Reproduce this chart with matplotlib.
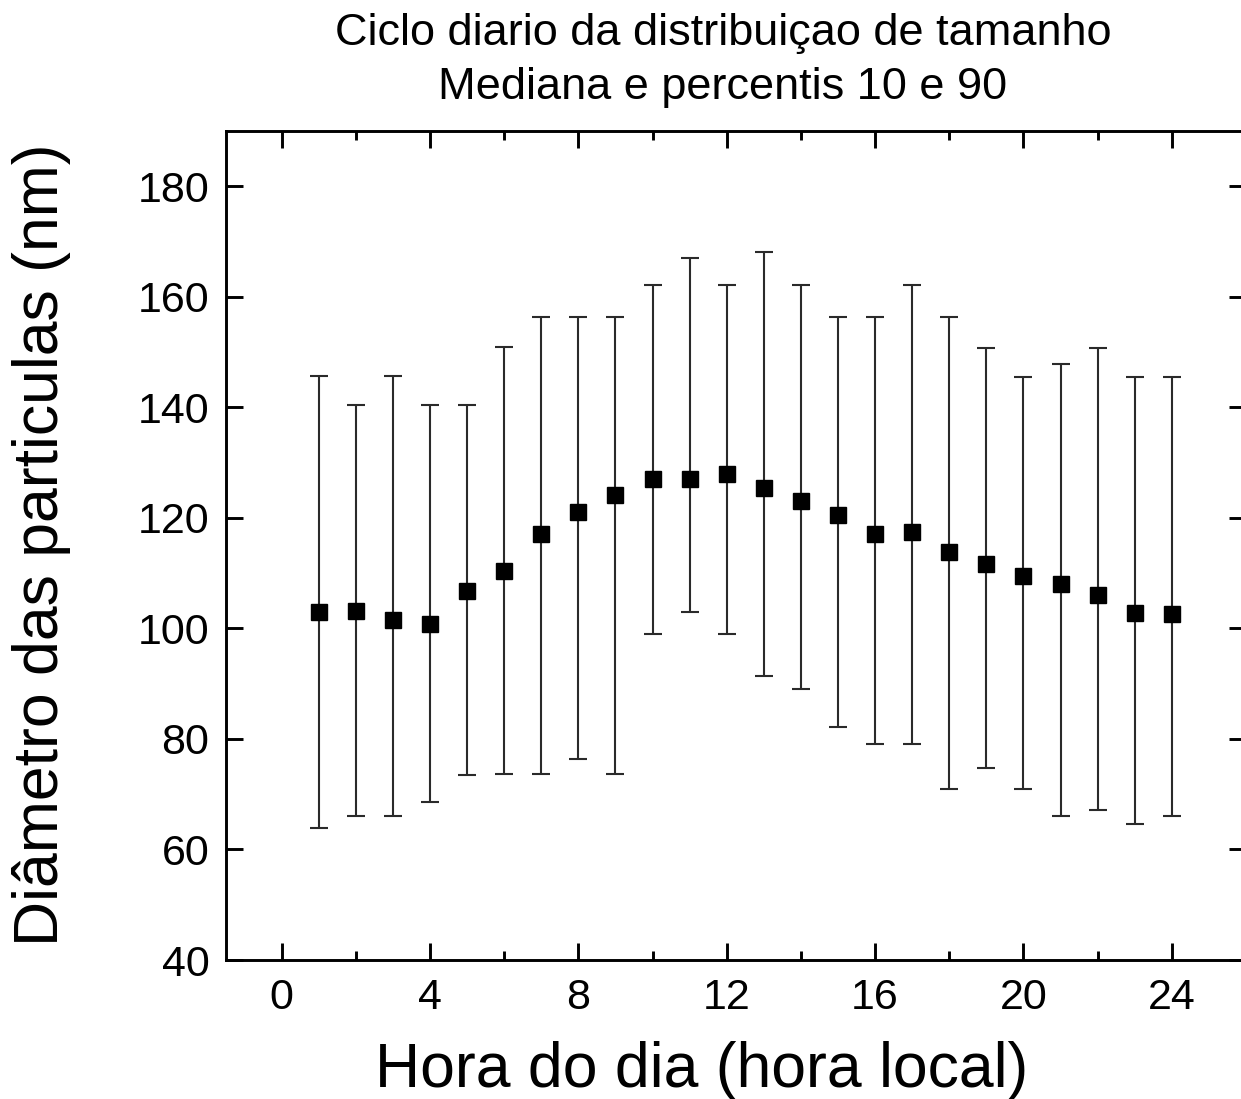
import numpy as np
import matplotlib.pyplot as plt
from matplotlib.ticker import MultipleLocator

plt.rcParams['font.family'] = ['Liberation Sans', 'DejaVu Sans']

# hourly median and 10th / 90th percentiles of particle diameter (nm)
hours = np.arange(1, 25)
median = [102.9, 103.1, 101.5, 100.8, 106.7, 110.4, 117.1, 121.1, 124.1, 127.1, 127.1, 128.0,
          125.4, 123.0, 120.5, 117.1, 117.5, 113.9, 111.7, 109.4, 108.1, 106.0, 102.8, 102.6]
p90 = [145.6, 140.4, 145.6, 140.4, 140.4, 150.9, 156.3, 156.3, 156.3, 162.1, 167.1, 162.1,
       168.1, 162.1, 156.3, 156.3, 162.1, 156.3, 150.8, 145.5, 147.8, 150.8, 145.5, 145.5]
p10 = [63.8, 66.0, 66.0, 68.5, 73.4, 73.6, 73.6, 76.3, 73.6, 99.0, 102.9, 99.0,
       91.4, 89.1, 82.1, 79.0, 79.1, 70.9, 74.8, 70.9, 66.0, 67.1, 64.6, 66.0]

median = np.array(median)
err_lo = median - np.array(p10)
err_hi = np.array(p90) - median

fig = plt.figure(figsize=(12.41, 10.99), dpi=100)
ax = fig.add_axes([226 / 1241, 139 / 1099, (1246 - 226) / 1241, (960 - 131) / 1099])

ax.errorbar(hours, median, yerr=[err_lo, err_hi], fmt='s', color='black', mec='black',
            ecolor='#2a2a2a', elinewidth=1.5, capsize=6.5, capthick=1.5, markersize=11)

ax.set_xlim(-1.5, 26)
ax.set_ylim(40, 190)
ax.xaxis.set_major_locator(MultipleLocator(4))
ax.xaxis.set_minor_locator(MultipleLocator(2))
ax.yaxis.set_major_locator(MultipleLocator(20))

ax.tick_params(which='both', direction='in', top=True, right=True, width=2.1, labelsize=31)
ax.tick_params(which='major', length=12)
ax.tick_params(which='minor', length=6.5)
ax.tick_params(axis='x', pad=13)
ax.tick_params(axis='y', pad=12)
for s in ax.spines.values():
    s.set_linewidth(2.1)

fig.text(723 / 1241, 1 - 33 / 1099, 'Ciclo diario da distribuiçao de tamanho', ha='center', va='center', fontsize=32.5)
fig.text(723 / 1241, 1 - 88 / 1099, 'Mediana e percentis 10 e 90', ha='center', va='center', fontsize=32.5)
fig.text(702 / 1241, 1 - 1070 / 1099, 'Hora do dia (hora local)', ha='center', va='center', fontsize=45)
fig.text(42 / 1241, 1 - 545 / 1099, 'Diâmetro das particulas (nm)', ha='center', va='center',
         rotation=90, fontsize=45)

fig.savefig('out.png', dpi=100)
